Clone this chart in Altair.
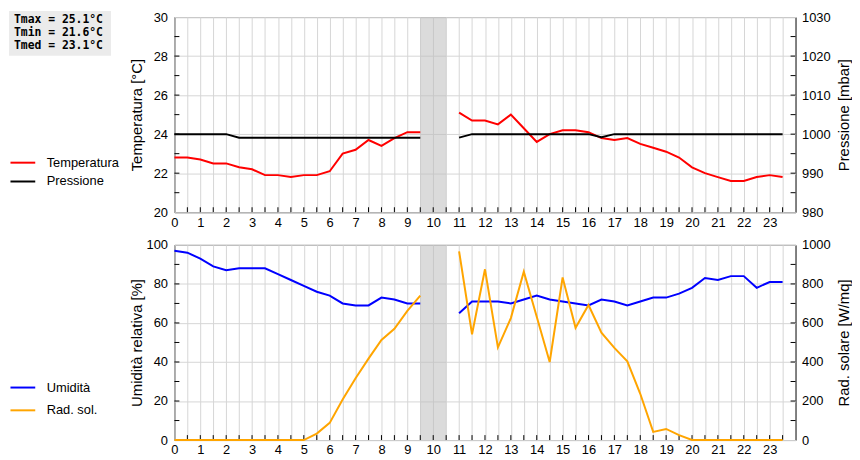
import altair as alt
import pandas as pd

HOURS = [0, 0.5, 1, 1.5, 2, 2.5, 3, 3.5, 4, 4.5, 5, 5.5, 6, 6.5, 7, 7.5, 8, 8.5, 9, 9.5,
         10, 10.5, 11, 11.5, 12, 12.5, 13, 13.5, 14, 14.5, 15, 15.5, 16, 16.5, 17, 17.5,
         18, 18.5, 19, 19.5, 20, 20.5, 21, 21.5, 22, 22.5, 23, 23.5]

TEMP = [22.8, 22.8, 22.7, 22.5, 22.5, 22.3, 22.2, 21.9, 21.9, 21.8, 21.9, 21.9, 22.1, 23.0,
        23.2, 23.7, 23.4, 23.8, 24.1, 24.1, None, None,
        25.1, 24.7, 24.7, 24.5, 25.0, 24.3, 23.6, 24.0, 24.2, 24.2, 24.1, 23.8, 23.7, 23.8,
        23.5, 23.3, 23.1, 22.8, 22.3, 22.0, 21.8, 21.6, 21.6, 21.8, 21.9, 21.8]

PRESS = [1000, 1000, 1000, 1000, 1000, 999.1, 999.1, 999.1, 999.1, 999.1, 999.1, 999.1,
         999.1, 999.1, 999.1, 999.1, 999.1, 999.1, 999.1, 999.1, None, None,
         999.1, 1000, 1000, 1000, 1000, 1000, 1000, 1000, 1000, 1000, 1000, 999.2, 1000, 1000,
         1000, 1000, 1000, 1000, 1000, 1000, 1000, 1000, 1000, 1000, 1000, 1000]

HUM = [97, 96, 93, 89, 87, 88, 88, 88, 85, 82, 79, 76, 74, 70, 69, 69, 73, 72, 70, 70,
       None, None,
       65, 71, 71, 71, 70, 72, 74, 72, 71, 70, 69, 72, 71, 69, 71, 73, 73, 75, 78, 83,
       82, 84, 84, 78, 81, 81]

RAD = [0, 0, 0, 0, 0, 0, 0, 0, 0, 0, 0, 33, 88, 208, 317, 417, 513, 570, 662, 740,
       None, None,
       967, 542, 875, 475, 625, 863, 632, 400, 833, 575, 692, 550, 472, 403, 237, 42,
       57, 25, 0, 0, 0, 0, 0, 0, 0, 0]

STATS = ["Tmax = 25.1°C", "Tmin = 21.6°C", "Tmed = 23.1°C"]
GAP = [9.5, 10.5]

T_LABELS = [20, 22, 24, 26, 28, 30]
T_TICKS = [21, 22, 23, 24, 25, 26, 27, 28, 29]
P_LABELS = [980, 990, 1000, 1010, 1020, 1030]
P_TICKS = [985, 990, 995, 1000, 1005, 1010, 1015, 1020, 1025]
U_LABELS = [0, 20, 40, 60, 80, 100]
U_TICKS = [10, 20, 30, 40, 50, 60, 70, 80, 90]
R_LABELS = [0, 200, 400, 600, 800, 1000]
R_TICKS = [100, 200, 300, 400, 500, 600, 700, 800, 900]

W, H = 627, 197
FONT = "Liberation Sans"
xscale = alt.Scale(domain=[0, 24], nice=False, zero=False)

X_AXIS = alt.Axis(values=HOURS,
                  labelExpr="datum.value % 1 === 0 ? format(datum.value, 'd') : ''",
                  grid=True, ticks=False, domain=False, labelPadding=4,
                  labelOverlap=False, title=None, labelAngle=0, labelFlush=False,
                  labelFontSize=13, labelFont=FONT, labelColor="black")


def y_axis(values, title, right=False):
    return alt.Axis(values=values, title=title, orient="right" if right else "left",
                    format="d", grid=not right, ticks=False, domain=False,
                    labelPadding=6 if right else 7, labelFontSize=13, labelFont=FONT,
                    labelColor="black", titleFont=FONT, titleFontSize=15,
                    titleFontWeight="normal", titleColor="black", titleAngle=270,
                    titleBaseline="alphabetic", titleX=53 if right else -33,
                    titleY=H / 2, titleAlign="center")


def panel(lvals, rvals, lname, rname, ltitle, rtitle, ldom, rdom, lvals_lab, rvals_lab,
          lticks, rticks, colors, legend_y, row_pad, extra=None):
    lscale = alt.Scale(domain=ldom, nice=False, zero=False)
    rscale = alt.Scale(domain=rdom, nice=False, zero=False)
    laxis = y_axis(lvals_lab, ltitle)
    raxis = y_axis(rvals_lab, rtitle, right=True)
    cscale = alt.Scale(domain=[lname, rname], range=colors)
    legend = alt.Legend(orient="none", legendX=-159.5, legendY=legend_y, title=None,
                        direction="vertical", symbolType="M-2.5,0H2.5", symbolSize=100,
                        symbolStrokeWidth=2, labelFontSize=13, labelFont=FONT,
                        labelColor="black", rowPadding=row_pad, labelOffset=17.5,
                        padding=0)

    ldf = pd.DataFrame({"h": HOURS, "v": lvals, "s": lname})
    rdf = pd.DataFrame({"h": HOURS, "v": rvals, "s": rname})

    band = alt.Chart(pd.DataFrame({"a": [GAP[0]], "b": [GAP[1]]})).mark_rect(
        color="#bdbdbd", opacity=0.55).encode(
        x=alt.X("a:Q", scale=xscale, axis=X_AXIS), x2="b:Q")

    xt = alt.Chart(pd.DataFrame({"h": HOURS[1:]})).mark_rule(color="black").encode(
        x=alt.X("h:Q", scale=xscale, axis=X_AXIS),
        y=alt.value(H - 5), y2=alt.value(H))

    lline = alt.Chart(ldf).mark_line(strokeWidth=2).encode(
        x=alt.X("h:Q", scale=xscale, axis=X_AXIS),
        y=alt.Y("v:Q", scale=lscale, axis=laxis),
        color=alt.Color("s:N", scale=cscale, legend=legend))

    lt = alt.Chart(pd.DataFrame({"v": lticks})).mark_rule(color="black").encode(
        y=alt.Y("v:Q", scale=lscale, axis=laxis), x=alt.value(0), x2=alt.value(5))

    rline = alt.Chart(rdf).mark_line(strokeWidth=2).encode(
        x=alt.X("h:Q", scale=xscale, axis=X_AXIS),
        y=alt.Y("v:Q", scale=rscale, axis=raxis),
        color=alt.Color("s:N", scale=cscale, legend=legend))

    rt = alt.Chart(pd.DataFrame({"v": rticks})).mark_rule(color="black").encode(
        y=alt.Y("v:Q", scale=rscale, axis=raxis), x=alt.value(W - 5), x2=alt.value(W))

    left_layers = [band, xt, lline, lt]
    if extra:
        left_layers += extra
    return alt.layer(alt.layer(*left_layers), alt.layer(rline, rt)).resolve_scale(
        y="independent").properties(width=W, height=H)


stats_bg = alt.Chart(pd.DataFrame({"k": [0]})).mark_rect(color="#ebebeb").encode(
    x=alt.value(-167), x2=alt.value(-64), y=alt.value(-6), y2=alt.value(39))
stats_txt = alt.Chart(pd.DataFrame({"t": ["\n".join(STATS)]})).mark_text(
    align="left", baseline="top", lineBreak="\n", lineHeight=13,
    font="DejaVu Sans Mono", fontWeight="bold", fontSize=11.5, color="black").encode(
    text="t:N", x=alt.value(-162), y=alt.value(-3))

top = panel(TEMP, PRESS, "Temperatura", "Pressione", "Temperatura [°C]", "Pressione [mbar]",
            [20, 30], [980, 1030], T_LABELS, P_LABELS, T_TICKS, P_TICKS,
            ["#ff0000", "#000000"], 140.5, 5, extra=[stats_bg, stats_txt])

bottom = panel(HUM, RAD, "Umidità", "Rad. sol.", "Umidità relativa [%]", "Rad. solare [W/mq]",
               [0, 100], [0, 1000], U_LABELS, R_LABELS, U_TICKS, R_TICKS,
               ["#0000ff", "#ffa500"], 137.5, 9)

chart = alt.vconcat(top, bottom, spacing=8).resolve_scale(color="independent").properties(
    padding=0, background="white"
).configure_view(stroke="black", strokeWidth=1).configure_axis(
    gridColor="#d6d6d6", gridWidth=1)

chart.save("out.html", embed_options={"renderer": "svg", "actions": False})
